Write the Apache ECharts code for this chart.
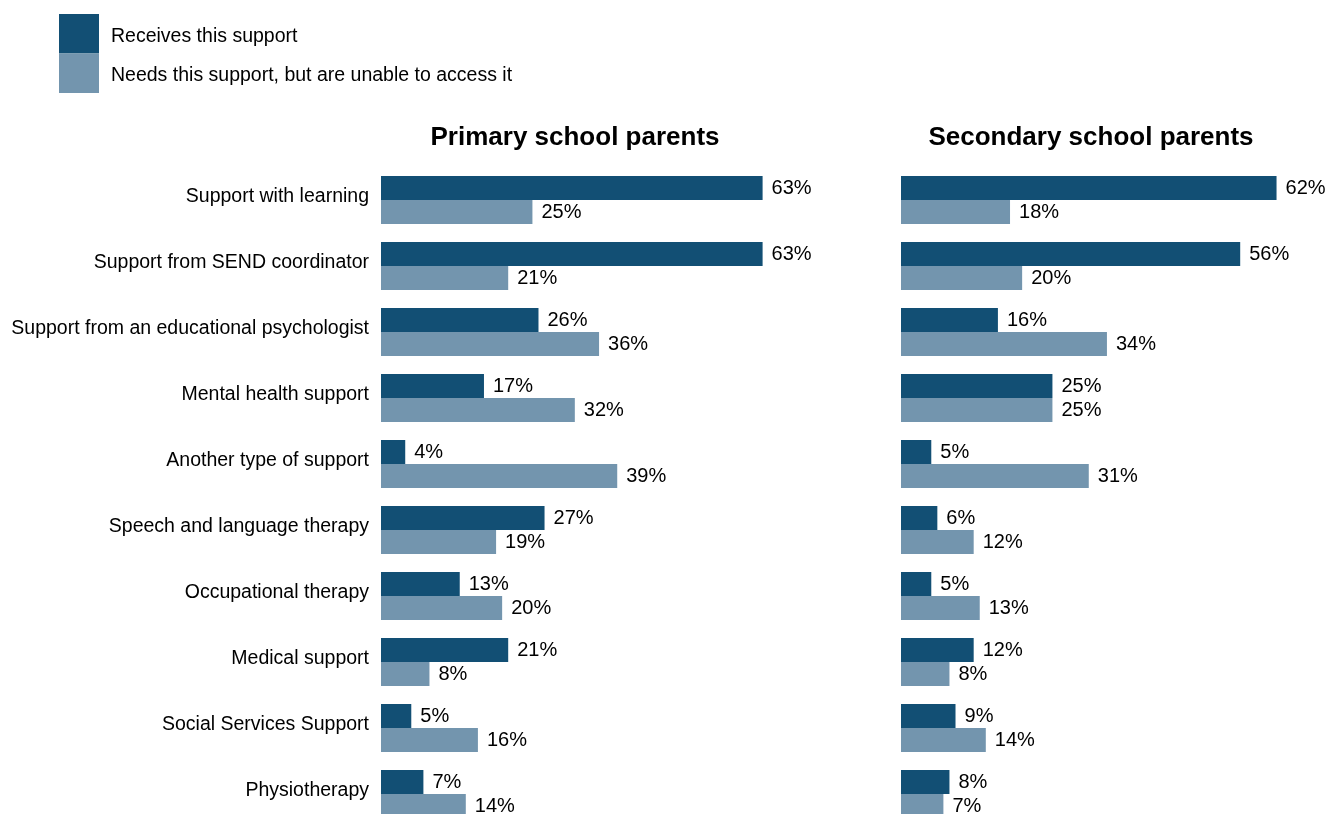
<!DOCTYPE html>
<html>
<head>
<meta charset="utf-8">
<script src="https://cdn.jsdelivr.net/npm/echarts@6/dist/echarts.min.js"></script>
<style>
html,body{margin:0;padding:0;background:#fff;overflow:hidden;}
#chart{width:1327px;height:827px;}
</style>
</head>
<body>
<div id="chart"></div>
<script>
const categories = [
  'Support with learning',
  'Support from SEND coordinator',
  'Support from an educational psychologist',
  'Mental health support',
  'Another type of support',
  'Speech and language therapy',
  'Occupational therapy',
  'Medical support',
  'Social Services Support',
  'Physiotherapy'
];
const seriesNames = ['Receives this support', 'Needs this support, but are unable to access it'];
const panelTitles = ['Primary school parents', 'Secondary school parents'];
const primaryReceives = [63, 63, 26, 17, 4, 27, 13, 21, 5, 7];
const primaryNeeds = [25, 21, 36, 32, 39, 19, 20, 8, 16, 14];
const secondaryReceives = [62, 56, 16, 25, 5, 6, 5, 12, 9, 8];
const secondaryNeeds = [18, 20, 34, 25, 31, 12, 13, 8, 14, 7];

const DARK = '#124F74';
const LIGHT = '#7395AE';
const FONT = '"Liberation Sans", Arial, sans-serif';

const chart = echarts.init(document.getElementById('chart'), null, {renderer: 'canvas'});

function barSeries(name, data, idx, color) {
  return {
    name: name,
    type: 'bar',
    xAxisIndex: idx,
    yAxisIndex: idx,
    data: data,
    barWidth: 24,
    barGap: '0%',
    itemStyle: {color: color},
    label: {
      show: true,
      position: 'right',
      distance: 9,
      formatter: '{c}%',
      color: '#000',
      fontSize: 20,
      fontFamily: FONT
    },
    emphasis: {disabled: true},
    animation: false
  };
}

const option = {
  animation: false,
  backgroundColor: '#fff',
  title: [
    {text: panelTitles[0], left: 570, top: 120, textAlign: 'center',
     textStyle: {fontSize: 26, fontWeight: 'bold', color: '#000', fontFamily: FONT}},
    {text: panelTitles[1], left: 1086, top: 120, textAlign: 'center',
     textStyle: {fontSize: 26, fontWeight: 'bold', color: '#000', fontFamily: FONT}}
  ],
  legend: {
    orient: 'vertical',
    left: 59,
    top: 14,
    itemWidth: 40,
    itemHeight: 39.5,
    itemGap: 0,
    icon: 'rect',
    padding: 0,
    data: seriesNames,
    formatter: name => '{t|' + name + '}',
    textStyle: {
      fontSize: 19.5, color: '#000', fontFamily: FONT, padding: [0, 0, 0, 7],
      rich: {t: {fontSize: 19.5, color: '#000', fontFamily: FONT, padding: [5, 0, 0, 0]}}
    }
  },
  grid: [
    {left: 381, top: 167, width: 424, bottom: 0},
    {left: 901, top: 167, width: 424, bottom: 0}
  ],
  xAxis: [0, 1].map(i => ({
    gridIndex: i, type: 'value', min: 0, max: 70,
    show: false, splitLine: {show: false}
  })),
  yAxis: [0, 1].map(i => ({
    gridIndex: i, type: 'category', data: categories, inverse: true,
    axisLine: {show: false}, axisTick: {show: false},
    axisLabel: {
      show: i === 0, color: '#000', fontSize: 19.5, fontFamily: FONT, margin: 12,
      formatter: v => '{t|' + v + '}',
      rich: {t: {fontSize: 19.5, color: '#000', fontFamily: FONT, padding: [0, 0, 6, 0]}}
    }
  })),
  series: [
    barSeries(seriesNames[0], primaryReceives, 0, DARK),
    barSeries(seriesNames[1], primaryNeeds, 0, LIGHT),
    barSeries(seriesNames[0], secondaryReceives, 1, DARK),
    barSeries(seriesNames[1], secondaryNeeds, 1, LIGHT)
  ]
};
chart.setOption(option);
</script>
</body>
</html>
